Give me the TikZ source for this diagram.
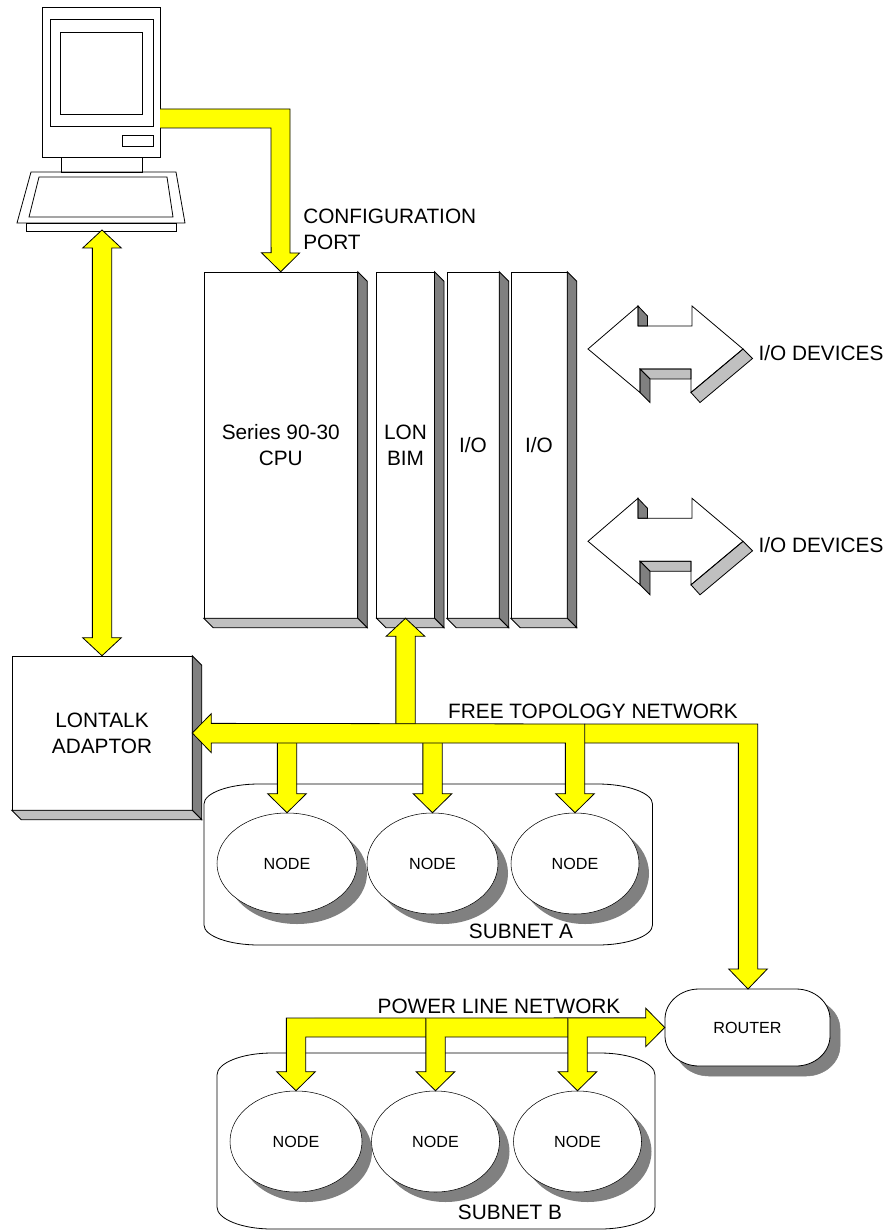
\documentclass[tikz,border=0pt]{standalone}
\usepackage{fontspec}
\setmainfont{Liberation Sans}
\usetikzlibrary{calc,shapes.geometric,shadows}
\definecolor{busyellow}{HTML}{FFFF00}
\definecolor{sidedark}{HTML}{808080}
\definecolor{sidelight}{HTML}{C0C0C0}
\tikzset{
    bigtext/.style={font=\fontsize{15.6}{19.5}\selectfont, align=center, inner sep=0pt},
    smalltext/.style={font=\fontsize{12.1}{14.5}\selectfont, align=center, inner sep=0pt},
    slab/.style={draw, fill=white, bigtext},
    oval/.style={ellipse, draw, fill=white, smalltext, drop shadow={shadow xshift=7.5pt, shadow yshift=-7.5pt, fill=sidedark, opacity=1}},
    fatbus/.style={draw, fill=busyellow, line width=.6pt, line join=miter},
    outline/.style={draw, line width=.6pt},
}
\newcommand{\blob}[7]{\draw[#1] (#2+#6,#3) -- (#4-#6,#3) .. controls (#4-.45*#6,#3) and (#4,#3+.45*#7) .. (#4,#3+#7) -- (#4,#5-#7) .. controls (#4,#5-.45*#7) and (#4-.45*#6,#5) .. (#4-#6,#5) -- (#2+#6,#5) .. controls (#2+.45*#6,#5) and (#2,#5-.45*#7) .. (#2,#5-#7) -- (#2,#3+#7) .. controls (#2,#3+.45*#7) and (#2+.45*#6,#3) .. (#2+#6,#3) -- cycle;}
\newcommand{\fatdown}[3]{\draw[fatbus] ($(#1 |- #2)+(9.65,0)$) -- ($(#1)+(9.65,-19)$) -- ++(9.65,0) -- (#1) -- ++(-19.3,-19) -- ++(9.65,0) -- ($(#1 |- #3)+(-9.65,0)$);}
\begin{document}
\begin{tikzpicture}[x=.75pt, y=-.75pt]
    \useasboundingbox (0,0) rectangle (892,1230);

    \draw[outline] (42,7) rectangle (160,157);
    \draw[outline] (50,19) rectangle (153,126);
    \draw[outline] (60,32) rectangle (142,114);
    \draw[outline] (122,135) rectangle (153,146);
    \draw[outline] (61,157) rectangle (142,172);
    \draw[outline] (26,223) rectangle (176,231);
    \draw[outline] (31,172) -- (176,172) -- (185,223) -- (17,223) -- cycle;
    \draw[outline] (39,177) -- (167,177) -- (173,217) -- (29,217) -- cycle;
    \coordinate (pctip) at (102,230);
    \coordinate (pcport) at (160,109);

    \node[slab, minimum width={153.5*.75pt}, minimum height={346*.75pt}] (cpu) at (280.75,445) {Series 90-30\\CPU};
    \node[slab, minimum width={57.5*.75pt}, minimum height={346*.75pt}] (bim) at (405.5,445) {LON\\BIM};
    \node[slab, minimum width={52*.75pt}, minimum height={346*.75pt}] (ioa) at (473,445) {I/O};
    \node[slab, minimum width={56*.75pt}, minimum height={346*.75pt}] (iob) at (539,445) {I/O};
    \node[slab, minimum width={180*.75pt}, minimum height={154*.75pt}] (adaptor) at (102,733) {LONTALK\\ADAPTOR};
    \foreach \b in {cpu,bim,ioa,iob,adaptor} {
        \draw[outline, fill=sidedark] (\b.north east) -- ++(9.5,9.5) -- ($(\b.south east)+(9.5,9.5)$) -- (\b.south east) -- cycle;
        \draw[outline, fill=sidelight] (\b.south west) -- ++(9.5,9.5) -- ($(\b.south east)+(9.5,9.5)$) -- (\b.south east) -- cycle;
    }

    \foreach \s/\n in {0/ioda, 192.3/iodb} {
        \begin{scope}[shift={(0,\s)}]
            \draw[outline, fill=sidedark] (638,306) -- (647.5,316) -- (647.5,326) -- (638,326) -- cycle;
            \draw[outline, fill=sidelight] (743,349) -- (752.5,358.5) -- (700,402.5) -- (691,392.5) -- cycle;
            \draw[outline, fill=sidelight] (640,369) -- (650,379) -- (691,379) -- (691,369) -- cycle;
            \draw[outline, fill=sidedark] (640,369) -- (650,379) -- (650,402.5) -- (640,392.5) -- cycle;
            \draw[outline] (588,349) -- (638,306) -- (638,326) -- (692,326) -- (692,306) -- (743,349) -- (691,392.5) -- (691,369) -- (640,369) -- (640,392.5) -- cycle;
            \node[bigtext] (\n) at (821,353) {I/O DEVICES};
        \end{scope}
    }

    \blob{outline}{204}{784}{652.5}{945}{55}{20}
    \node[oval, minimum width={140*.75pt}, minimum height={101*.75pt}] (nodeaa) at (287,863.5) {NODE};
    \node[oval, minimum width={131*.75pt}, minimum height={101*.75pt}] (nodeab) at (432.5,863.5) {NODE};
    \node[oval, minimum width={128*.75pt}, minimum height={101*.75pt}] (nodeac) at (575,863.5) {NODE};
    \node[bigtext] (subneta) at (521,931) {SUBNET A};

    \blob{outline}{217}{1053}{655}{1229}{55}{22}
    \node[oval, minimum width={132*.75pt}, minimum height={101*.75pt}] (nodeba) at (296,1141.5) {NODE};
    \node[oval, minimum width={128*.75pt}, minimum height={101*.75pt}] (nodebb) at (435.5,1141.5) {NODE};
    \node[oval, minimum width={128*.75pt}, minimum height={101*.75pt}] (nodebc) at (577.5,1141.5) {NODE};
    \node[bigtext] (subnetb) at (510,1212) {SUBNET B};

    \blob{fill=sidedark, draw=sidedark}{675}{999}{840}{1076}{34}{30}
    \blob{outline, fill=white}{665}{989}{830}{1066}{34}{30}
    \node[smalltext, minimum width={165*.75pt}, minimum height={77*.75pt}] (router) at (747.5,1027.5) {ROUTER};
    \coordinate (routertip) at (748,989);

    \coordinate (fttop) at (0,724);
    \coordinate (ftbot) at (0,743);
    \coordinate (pltop) at (0,1018);
    \coordinate (plbot) at (0,1037);

    \draw[fatbus] (pcport) -- (290,109) -- (290,253) -- ++(9.65,0) -- (cpu.north) -- ++(-19.3,-19) -- ++(9.65,0) -- (271,128) -- (160,128);

    \draw[fatbus] (pctip) -- ++(19.3,18) -- ++(-9.65,0) -- ($(adaptor.north)+(9.65,-18)$) -- ++(9.65,0) -- (adaptor.north) -- ++(-19.3,-18) -- ++(9.65,0) -- ($(pctip)+(-9.65,18)$) -- ++(-19.3+9.65,0) -- cycle;

    \draw[fatbus] (bim.south) -- ++(19.3,18) -- ++(-9.65,0) -- ($(bim.south |- fttop)+(9.65,0)$) -- ($(bim.south |- fttop)+(-9.65,0)$) -- ($(bim.south)+(-9.65,18)$) -- ++(-9.65,0) -- cycle;

    \fatdown{nodeaa.north}{fttop}{fttop}
    \fatdown{nodeab.north}{fttop}{fttop}

    \draw[fatbus] ($(nodeac.north |- fttop)+(9.65,0)$) -- ($(routertip |- fttop)+(9.65,0)$) -- ($(routertip)+(9.65,-20)$) -- ++(9.65,0) -- (routertip) -- ++(-19.3,-20) -- ++(9.65,0) -- ($(routertip |- ftbot)+(-9.65,0)$) -- ($(nodeac.north |- ftbot)+(9.65,0)$);

    \draw[fatbus] (adaptor.east) -- ++(19,-19.3) -- ++(0,9.65) -- ($(nodeac.north |- fttop)+(9.65,0)$) -- ($(nodeac.north)+(9.65,-19)$) -- ++(9.65,0) -- (nodeac.north) -- ++(-19.3,-19) -- ++(9.65,0) -- ($(nodeac.north |- ftbot)+(-9.65,0)$) -- ($(adaptor.east |- ftbot)+(19,0)$) -- ++(0,9.65) -- cycle;

    \draw[fatbus] (nodeba.north) -- ++(19.3,-19) -- ++(-9.65,0) -- ($(nodeba.north |- plbot)+(9.65,0)$) -- ($(router.west |- plbot)+(-19,0)$) -- ++(0,9.65) -- (router.west) -- ++(-19,-19.3) -- ++(0,9.65) -- ($(nodeba.north |- pltop)+(-9.65,0)$) -- ($(nodeba.north)+(-9.65,-19)$) -- ++(-9.65,0) -- cycle;

    \fatdown{nodebb.north}{plbot}{pltop}
    \fatdown{nodebc.north}{plbot}{pltop}

    \node[bigtext, align=left, anchor=west] (config) at (303,229) {CONFIGURATION\\PORT};
    \node[bigtext] (freenet) at (593,711) {FREE TOPOLOGY NETWORK};
    \node[bigtext] (powernet) at (499,1006) {POWER LINE NETWORK};
\end{tikzpicture}
\end{document}
